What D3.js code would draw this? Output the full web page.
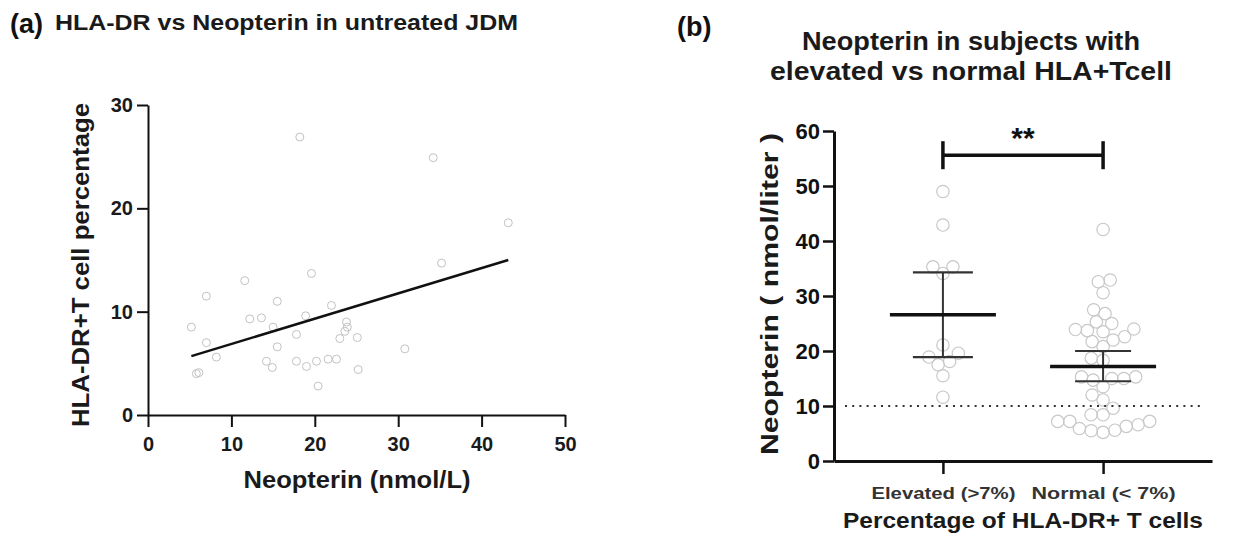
<!DOCTYPE html>
<html>
<head>
<meta charset="utf-8">
<script src="https://cdn.jsdelivr.net/npm/d3@7"></script>
<style>
  body { margin: 0; background: #fff; }
  svg { font-family: "Liberation Sans", Arial, sans-serif; }
</style>
</head>
<body>
<div id="chart"></div>
<script>
// ---- panel (a) data: neopterin vs HLA-DR+ T cell %
var scatterX = [18.2, 34.2, 43.2, 35.2, 19.6, 11.6, 7.0, 15.5, 22.0, 18.9, 13.6, 12.2,
    23.8, 23.9, 23.6, 15.0, 5.2, 17.8, 23.0, 25.1, 7.0, 15.5, 30.8, 8.2, 14.2, 14.9,
    17.8, 19.0, 20.2, 21.6, 22.6, 5.8, 6.1, 25.2, 20.4];
var scatterY = [26.9, 24.9, 18.6, 14.7, 13.7, 13.0, 11.5, 11.0, 10.6, 9.6, 9.4, 9.3,
    9.0, 8.5, 8.1, 8.5, 8.5, 7.8, 7.4, 7.5, 7.0, 6.6, 6.4, 5.6, 5.2, 4.6,
    5.2, 4.7, 5.2, 5.4, 5.4, 4.0, 4.1, 4.4, 2.8];
var fitX = [5.2, 43.2];
var fitY = [5.7, 15.0];
var aTicksX = [0, 10, 20, 30, 40, 50];
var aTicksY = [0, 10, 20, 30];

// ---- panel (b) data: neopterin by HLA-DR+ group
var groups = ['Elevated (>7%)', 'Normal  (< 7%)'];
var elevatedVals = [49.0, 42.9, 34.1, 35.3, 35.3, 21.1, 19.6, 18.9, 17.5, 18.1, 15.5, 11.6];
var normalVals = [42.1, 32.6, 32.9, 30.6, 27.5, 26.8, 25.3, 25.0, 23.7, 23.5, 23.9, 24.0,
    22.0, 22.6, 21.7, 20.8, 18.7, 18.3, 15.0, 13.5, 15.3, 14.7, 15.3, 15.0, 12.0, 11.1,
    9.6, 8.4, 8.4, 7.2, 7.2, 7.2, 6.6, 5.9, 6.3, 5.2, 5.5, 5.6];
var groupMean = [26.6, 17.2];
var groupUpper = [34.3, 20.0];
var groupLower = [18.9, 14.5];
var sigValue = 55.6;
var sigLabel = '**';
var refValue = 10;
var bTicksY = [0, 10, 20, 30, 40, 50, 60];

var svg = d3.select('#chart').append('svg')
    .attr('width', 1255)
    .attr('height', 540);

// helper for the stretched bold labels of the figure
function label(g, x, y, txt, size, len, anchor, rot) {
    var t = g.append('text')
        .attr('font-size', size).attr('font-weight', 'bold').attr('fill', '#1a1a1a')
        .attr('text-anchor', anchor || 'middle')
        .text(txt);
    if (rot) t.attr('transform', 'translate(' + x + ',' + y + ') rotate(' + rot + ')');
    else t.attr('x', x).attr('y', y);
    if (len) t.attr('textLength', len).attr('lengthAdjust', 'spacingAndGlyphs');
    return t;
}

// ================= panel (a) =================
var ax = d3.scaleLinear().domain([0, 50]).range([148, 565]);
var ay = d3.scaleLinear().domain([0, 30]).range([415, 105]);

var ga = svg.append('g');

label(ga, 10, 33, '(a)', 27, null, 'start').attr('fill', '#111');
label(ga, 55, 30, 'HLA-DR vs Neopterin in untreated JDM', 22, 463, 'start');

var axA = ga.append('g').attr('transform', 'translate(0,415)')
    .call(d3.axisBottom(ax).tickValues(aTicksX).tickSize(12).tickSizeOuter(0).tickPadding(10));
var ayA = ga.append('g').attr('transform', 'translate(148,0)')
    .call(d3.axisLeft(ay).tickValues(aTicksY).tickSize(11).tickSizeOuter(0).tickPadding(4));
[axA, ayA].forEach(function(g) {
    g.select('.domain').attr('stroke', '#111').attr('stroke-width', 2);
    g.selectAll('.tick line').attr('stroke', '#111').attr('stroke-width', 2);
    g.selectAll('.tick text').attr('font-size', 20).attr('font-weight', 'bold')
        .attr('fill', '#1a1a1a').attr('font-family', '"Liberation Sans", Arial, sans-serif');
});

label(ga, 357, 488, 'Neopterin (nmol/L)', 23, 227);
label(ga, 89, 265, 'HLA-DR+T cell percentage', 23, 324, 'middle', -90);

ga.selectAll('circle.pt')
    .data(scatterX.map(function(x, i) { return { x: x, y: scatterY[i] }; }))
    .enter().append('circle')
    .attr('class', 'pt')
    .attr('cx', function(d) { return ax(d.x); })
    .attr('cy', function(d) { return ay(d.y); })
    .attr('r', 4)
    .attr('fill', 'none')
    .attr('stroke', '#c2c2c2')
    .attr('stroke-width', 1);

ga.append('line')
    .attr('x1', ax(fitX[0])).attr('y1', ay(fitY[0]))
    .attr('x2', ax(fitX[1])).attr('y2', ay(fitY[1]))
    .attr('stroke', '#111').attr('stroke-width', 2.5);

// ================= panel (b) =================
var bx = d3.scalePoint().domain(groups).range([834, 1212]).padding(0.68);
var by = d3.scaleLinear().domain([0, 60]).range([461, 131]);

var gb = svg.append('g');

label(gb, 677, 36, '(b)', 27, null, 'start').attr('fill', '#111');
label(gb, 971, 50, 'Neopterin in subjects with', 25, 338);
label(gb, 971, 80, 'elevated vs normal HLA+Tcell', 25, 402);

// swarm layout so dots at similar values sit side by side
function swarm(vals, r) {
    var placed = [];
    vals.slice().sort(function(a, b) { return a - b; }).forEach(function(v) {
        var y = by(v);
        var blocks = [];
        placed.forEach(function(p) {
            var dy = Math.abs(p.y - y);
            if (dy < 2 * r) {
                var w = Math.sqrt(4 * r * r - dy * dy);
                blocks.push([p.dx - w, p.dx + w]);
            }
        });
        var cands = [0];
        blocks.forEach(function(b) { cands.push(b[0], b[1]); });
        cands.sort(function(a, b) { return Math.abs(a) - Math.abs(b); });
        var dx = cands.find(function(c) {
            return blocks.every(function(b) { return c <= b[0] + 1e-6 || c >= b[1] - 1e-6; });
        });
        placed.push({ v: v, y: y, dx: dx });
    });
    return placed;
}

[elevatedVals, normalVals].forEach(function(vals, gi) {
    var cx = bx(groups[gi]);
    gb.selectAll('circle.g' + gi)
        .data(swarm(vals, 6))
        .enter().append('circle')
        .attr('class', 'g' + gi)
        .attr('cx', function(d) { return cx + d.dx; })
        .attr('cy', function(d) { return d.y; })
        .attr('r', 6.2)
        .attr('fill', 'none')
        .attr('stroke', '#c8c8c8')
        .attr('stroke-width', 1.2);
});

// reference line at 10
gb.append('line')
    .attr('x1', 845).attr('x2', 1205)
    .attr('y1', by(refValue)).attr('y2', by(refValue))
    .attr('stroke', '#333').attr('stroke-width', 2.2)
    .attr('stroke-dasharray', '2,5.2');

// mean and error bars
groups.forEach(function(g, i) {
    var cx = bx(g);
    var capW = i === 0 ? 30 : 28;
    gb.append('line').attr('x1', cx).attr('x2', cx)
        .attr('y1', by(groupLower[i])).attr('y2', by(groupUpper[i]))
        .attr('stroke', '#333').attr('stroke-width', 2);
    [groupLower[i], groupUpper[i]].forEach(function(v) {
        gb.append('line').attr('x1', cx - capW).attr('x2', cx + capW)
            .attr('y1', by(v)).attr('y2', by(v))
            .attr('stroke', '#333').attr('stroke-width', 2.2);
    });
    gb.append('line').attr('x1', cx - 53).attr('x2', cx + 53)
        .attr('y1', by(groupMean[i])).attr('y2', by(groupMean[i]))
        .attr('stroke', '#111').attr('stroke-width', 3.5);
});

// significance bracket
var s0 = bx(groups[0]), s1 = bx(groups[1]), sy = by(sigValue);
gb.append('line').attr('x1', s0).attr('x2', s1).attr('y1', sy).attr('y2', sy)
    .attr('stroke', '#111').attr('stroke-width', 3.5);
[s0, s1].forEach(function(x) {
    gb.append('line').attr('x1', x).attr('x2', x).attr('y1', sy - 14).attr('y2', sy + 14)
        .attr('stroke', '#111').attr('stroke-width', 3.5);
});
gb.append('text').attr('x', (s0 + s1) / 2).attr('y', sy - 7).attr('text-anchor', 'middle')
    .attr('font-size', 30).attr('font-weight', 'bold').attr('fill', '#111')
    .text(sigLabel);

// axes
var axB = gb.append('g').attr('transform', 'translate(0,461)')
    .call(d3.axisBottom(bx).tickSize(13).tickSizeOuter(0).tickPadding(13));
var ayB = gb.append('g').attr('transform', 'translate(834,0)')
    .call(d3.axisLeft(by).tickValues(bTicksY).tickSize(11).tickSizeOuter(0).tickPadding(3));
[axB, ayB].forEach(function(g) {
    g.select('.domain').attr('stroke', '#111').attr('stroke-width', 3);
    g.selectAll('.tick line').attr('stroke', '#111').attr('stroke-width', 2.5);
    g.selectAll('.tick text').attr('font-weight', 'bold')
        .attr('font-family', '"Liberation Sans", Arial, sans-serif');
});
ayB.selectAll('.tick text').attr('font-size', 22).attr('fill', '#111');
axB.selectAll('.tick text').attr('font-size', 17).attr('fill', '#333')
    .attr('textLength', 144).attr('lengthAdjust', 'spacingAndGlyphs');

label(gb, 1023, 528, 'Percentage of HLA-DR+ T cells', 22, 360);
label(gb, 778, 294, 'Neopterin ( nmol/liter )', 24, 322, 'middle', -90);
</script>
</body>
</html>
